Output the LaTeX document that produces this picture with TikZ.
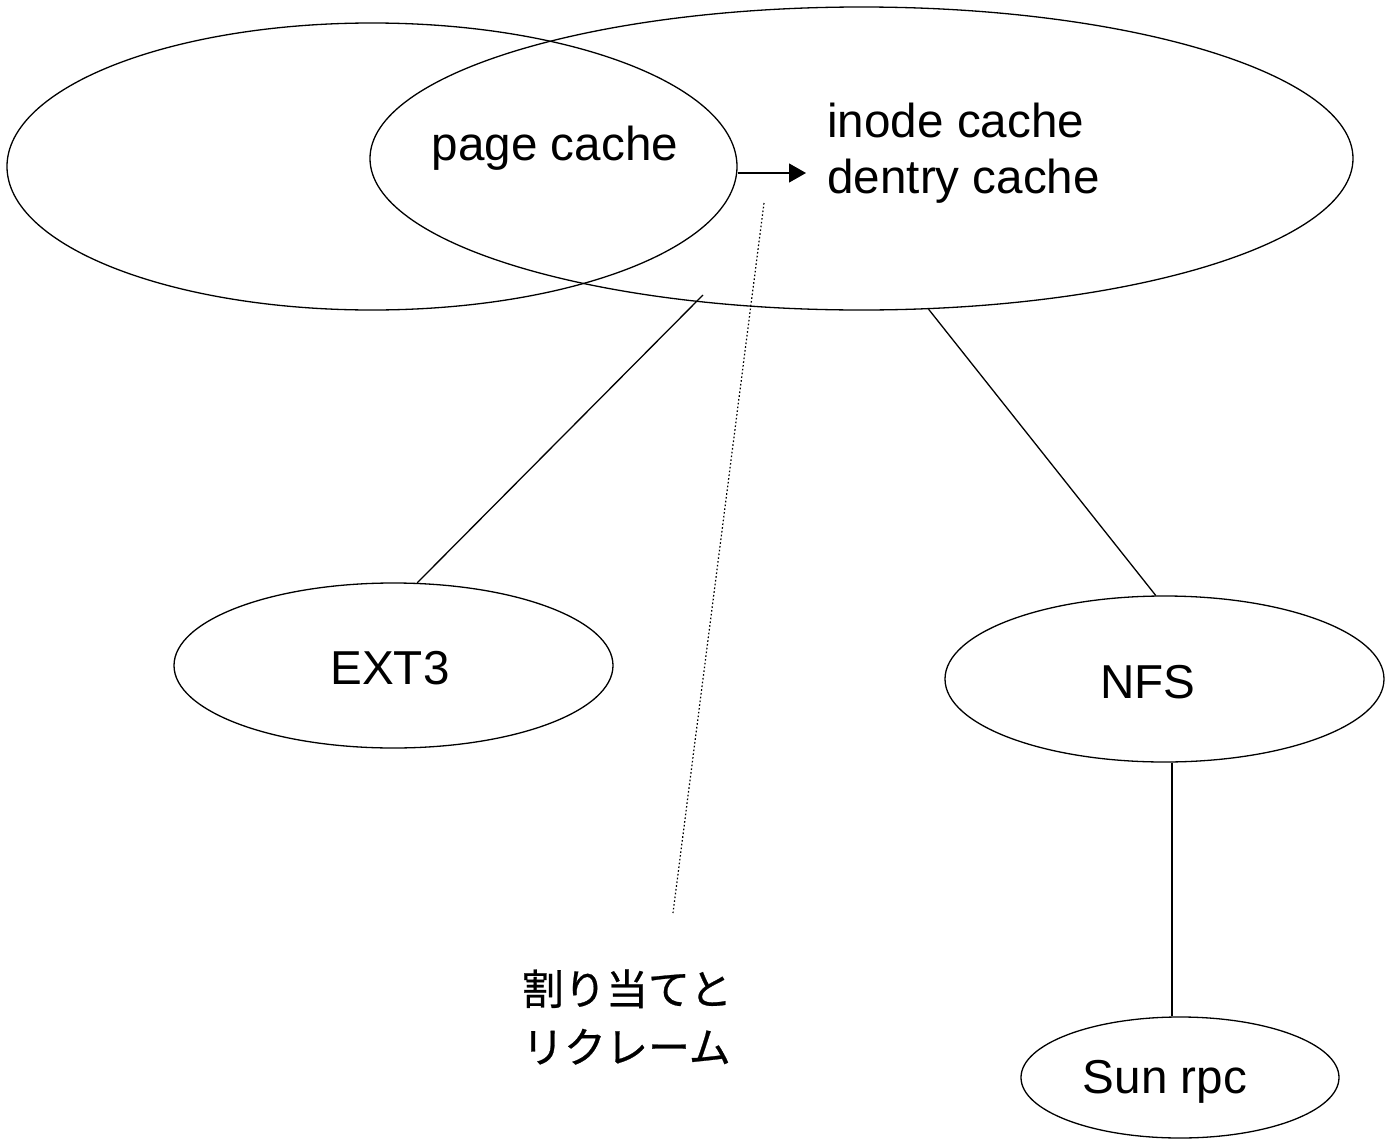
\documentclass[tikz,border=0pt]{standalone}
\usepackage{fontspec}
\setmainfont{Liberation Sans}
\newfontfamily\jpfont[FakeBold=0.6]{Noto Sans CJK JP}
\usetikzlibrary{shapes.geometric,arrows.meta}
\begin{document}
\begin{tikzpicture}[x=0.5pt,y=-0.5pt,
  ell/.style={draw, ellipse, inner sep=0pt, line width=0.65pt},
  lbl/.style={font=\fontsize{23.8}{28}\selectfont, inner sep=0pt},
  conn/.style={line width=0.65pt},
  dots/.style={line width=0.6pt, dash pattern=on 0.8pt off 1.1pt},
]
\useasboundingbox (0,0) rectangle (1389,1146);
% the two large overlapping ellipses
\node[ell, minimum width=365pt, minimum height=143.5pt] (left) at (372,166.5) {};
\node[ell, minimum width=491.5pt, minimum height=151.5pt] (right) at (861.5,158.5) {};
% small ellipses
\node[ell, minimum width=219.5pt, minimum height=82.5pt] (ext3) at (393.5,665.5) {};
\node[ell, minimum width=219.5pt, minimum height=83pt] (nfs) at (1164.5,679) {};
\node[ell, minimum width=159pt, minimum height=60.5pt] (sun) at (1180,1077.5) {};
% labels
\node[lbl, anchor=base] (pagecache) at (555,160) {page cache};
\node[lbl, anchor=west, align=left] (caches) at (827,153) {inode cache\\dentry cache};
\node[lbl, anchor=base] (ext3t) at (390,684) {EXT3};
\node[lbl, anchor=base] (nfst) at (1148,698) {NFS};
\node[lbl, anchor=base] (sunt) at (1165,1093) {Sun rpc};
\node[font=\jpfont\fontsize{21}{29}\selectfont, inner sep=0pt, align=left] (jp) at (627,1017) {割り当てと\\リクレーム};
% coordinates
\coordinate (arrowtip) at (806,173);
\coordinate (extend) at (703,295);
\coordinate (vl) at (1172,0);
\coordinate (d1) at (764,203);
\coordinate (d2) at (673,913);
% connectors
\draw[conn, -{Triangle[length=8.5pt,width=9.5pt]}] (left.east |- arrowtip) -- (arrowtip);
\draw[conn] (ext3.74) -- (extend);
\draw[conn] (nfs.96) -- (right.294.5);
\draw[conn] (nfs.south -| vl) -- (sun.north -| vl);
\draw[dots] (d1) -- (d2);
\end{tikzpicture}
\end{document}
